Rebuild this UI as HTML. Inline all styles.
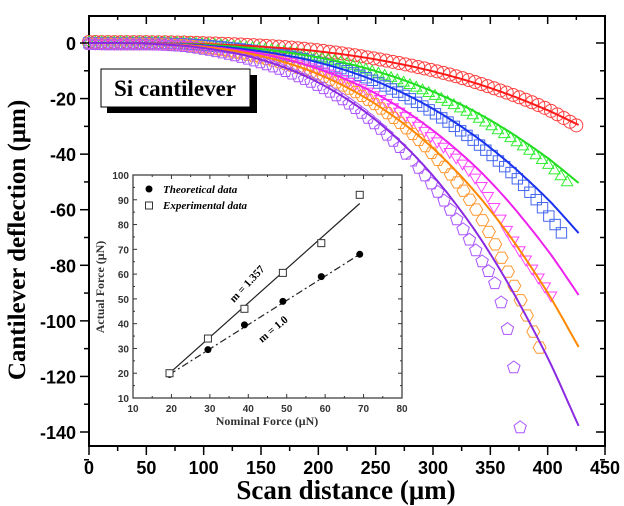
<!DOCTYPE html>
<html><head><meta charset="utf-8"><style>
html,body{margin:0;padding:0;background:#fff;}
svg{display:block;}
text{font-family:"Liberation Sans",sans-serif;}
.serif{font-family:"Liberation Serif",serif;}
</style></head><body>
<svg id="chart" width="624" height="506" viewBox="0 0 624 506" xmlns="http://www.w3.org/2000/svg">
<g id="main"></g>
<g id="inset"></g>
</svg>
<script>
// ---- main chart data ----
const xSamples = [0, 50, 100, 150, 200, 250, 300, 350, 400, 427];
const seriesNames = ['red','green','blue','magenta','orange','purple'];
const seriesColors = ['#ff1a1a','#22dd22','#1a33ee','#ee22ee','#ff8800','#8a2be2'];
const markerColors = ['#ff4040','#33ee33','#4466ee','#ff44ff','#ff9933','#aa55ff'];
const redFit = [0,-0.05,-0.4,-1.3,-3.0,-5.9,-10.2,-16.2,-24.2,-29.5];
const greenFit = [0,-0.1,-0.6,-2.2,-5.2,-10.1,-17.5,-27.8,-41.4,-50.4];
const blueFit = [0,-0.1,-0.9,-3.0,-7.0,-13.7,-23.7,-37.7,-56.2,-68.4];
const magentaFit = [0,-0.1,-1.2,-3.9,-9.3,-18.2,-31.5,-49.9,-74.6,-90.7];
const orangeFit = [0,-0.2,-1.4,-4.7,-11.2,-22.0,-37.9,-60.2,-89.9,-109.4];
const purpleFit = [0,-0.2,-1.8,-6.0,-14.2,-27.7,-47.8,-75.9,-113.3,-137.8];
// experimental (marker) series
const redExpX = [0,100,200,300,350,400,425];
const redExpY = [0,-0.4,-3,-10.2,-16.2,-24.2,-30];
const greenExpX = [0,100,200,250,300,350,400,417];
const greenExpY = [0,-0.7,-5.5,-11,-19,-30,-44,-50.4];
const blueExpX = [0,100,200,250,300,350,385,412];
const blueExpY = [0,-0.9,-7,-14,-25,-40,-54,-68.4];
const magentaExpX = [0,100,200,250,300,340,370,403];
const magentaExpY = [0,-1.2,-9.5,-19,-34,-50,-71,-90.7];
const orangeExpX = [0,100,200,250,297,341,376,393];
const orangeExpY = [0,-1.4,-11.2,-22,-38.5,-62,-92,-109.4];
const purpleExpX = [0,100,200,250,300,341,358,370,376];
const purpleExpY = [0,-1.8,-15,-29,-51,-77,-91,-115,-138];
const markerShapes = ['circle','triangle','square','triangleDown','hexagon','pentagon'];
const xTicks = [0,50,100,150,200,250,300,350,400,450];
const yTicks = [0,-20,-40,-60,-80,-100,-120,-140];

// ---- inset data ----
const nominal = [19.5, 29.5, 39, 49, 59, 69];
const theoretical = [19.5, 29.5, 39.5, 49, 59, 68];
const experimental = [20, 34, 46, 60.5, 72.5, 92];
const fitExpStart = [19.5, 20]; const fitExpEnd = [69, 88.5];
const insetXTicks = [10,20,30,40,50,60,70,80];
const insetYTicks = [10,20,30,40,50,60,70,80,90,100];

const NS='http://www.w3.org/2000/svg';
function mk(tag, attrs, parent){const e=document.createElementNS(NS,tag);for(const k in attrs)e.setAttribute(k,attrs[k]);parent.appendChild(e);return e;}
const main=document.getElementById('main');
const X0=89,X1=605,Y0=43,YM140=432;
const sx=v=>X0+(v/450)*(X1-X0);
const sy=v=>Y0+(v/-140)*(YM140-Y0);
const fits=[redFit,greenFit,blueFit,magentaFit,orangeFit,purpleFit];
const expXs=[redExpX,greenExpX,blueExpX,magentaExpX,orangeExpX,purpleExpX];
const expYs=[redExpY,greenExpY,blueExpY,magentaExpY,orangeExpY,purpleExpY];
function herm(xs,ys,x){
  const n=xs.length;
  const slope=i=>{if(i===0)return (ys[1]-ys[0])/(xs[1]-xs[0]);if(i===n-1)return (ys[n-1]-ys[n-2])/(xs[n-1]-xs[n-2]);
    const a=(ys[i]-ys[i-1])/(xs[i]-xs[i-1]),b=(ys[i+1]-ys[i])/(xs[i+1]-xs[i]);return (a+b)/2;};
  let i=1;while(i<n-1&&x>xs[i])i++;
  const h=xs[i]-xs[i-1],t=Math.min(1,Math.max(0,(x-xs[i-1])/h));
  const t2=t*t,t3=t2*t;
  return (2*t3-3*t2+1)*ys[i-1]+(t3-2*t2+t)*h*slope(i-1)+(-2*t3+3*t2)*ys[i]+(t3-t2)*h*slope(i);
}

const frame=mk('rect',{x:X0,y:16,width:X1-X0,height:446-16,fill:'none',stroke:'#000','stroke-width':2},main);



function shape(type,cx,cy,r,color,parent){
  let el;
  const poly=(n,rot)=>{let p=[];for(let i=0;i<n;i++){const a=rot+i*2*Math.PI/n;p.push((cx+r*Math.cos(a)).toFixed(1)+','+(cy+r*Math.sin(a)).toFixed(1));}return p.join(' ');};
  if(type==='circle') el=mk('circle',{cx,cy,r,fill:'none',stroke:color,'stroke-width':1},parent);
  else if(type==='square') el=mk('rect',{x:cx-r*0.8,y:cy-r*0.8,width:r*1.6,height:r*1.6,fill:'none',stroke:color,'stroke-width':1},parent);
  else if(type==='triangle') el=mk('polygon',{points:poly(3,-Math.PI/2),fill:'none',stroke:color,'stroke-width':1},parent);
  else if(type==='triangleDown') el=mk('polygon',{points:poly(3,Math.PI/2),fill:'none',stroke:color,'stroke-width':1},parent);
  else if(type==='hexagon') el=mk('polygon',{points:poly(6,0),fill:'none',stroke:color,'stroke-width':1},parent);
  else el=mk('polygon',{points:poly(5,-Math.PI/2),fill:'none',stroke:color,'stroke-width':1},parent);
  return el;
}
for(let s=0;s<6;s++){
  const g=mk('g',{},main);
  
  
  const xs=expXs[s],ys=expYs[s],endX=xs[xs.length-1];
  const n=Math.round(endX/5.5);
  for(let k=0;k<=n;k++){
    const x=endX*k/n;
    const v=herm(xs,ys,x);
    const m=shape(markerShapes[s],sx(x),sy(v)+(s-2.5)*0.4,6.5,markerColors[s],g);
    
    
  }
}
for(let s=0;s<6;s++){
  let d='';
  for(let x=0;x<=427;x+=2){d+=(x?'L':'M')+sx(x).toFixed(1)+','+sy(herm(xSamples,fits[s],x)).toFixed(1);}
  d+='L'+sx(427).toFixed(1)+','+sy(fits[s][9]).toFixed(1);
  const p=mk('path',{d,fill:'none',stroke:seriesColors[s],'stroke-width':2},main);
  
  
}

for(let i=0;i<xTicks.length;i++){
  const v=xTicks[i],x=sx(v);
  mk('line',{x1:x,y1:446,x2:x,y2:455,stroke:'#000','stroke-width':1.5},main);
  mk('line',{x1:x,y1:16,x2:x,y2:24,stroke:'#000','stroke-width':1.5},main);
  if(i<xTicks.length-1){const xm=sx(v+25);
    mk('line',{x1:xm,y1:446,x2:xm,y2:451,stroke:'#000','stroke-width':1.5},main);
    mk('line',{x1:xm,y1:16,x2:xm,y2:20,stroke:'#000','stroke-width':1.5},main);}
  const t=mk('text',{x,y:474,'text-anchor':'middle','font-size':18,'font-weight':'bold'},main);
  t.textContent=v;
  
  
}
for(let i=0;i<yTicks.length;i++){
  const v=yTicks[i],y=sy(v);
  mk('line',{x1:80,y1:y,x2:X0,y2:y,stroke:'#000','stroke-width':1.5},main);
  mk('line',{x1:X1-9,y1:y,x2:X1,y2:y,stroke:'#000','stroke-width':1.5},main);
  const ym=sy(v-10);
  mk('line',{x1:84,y1:ym,x2:X0,y2:ym,stroke:'#000','stroke-width':1.5},main);
  mk('line',{x1:X1-5,y1:ym,x2:X1,y2:ym,stroke:'#000','stroke-width':1.5},main);
  const t=mk('text',{x:76,y:y+7,'text-anchor':'end','font-size':18,'font-weight':'bold'},main);
  t.textContent=v;
  
  
}
const xt=mk('text',{x:346,y:499,'text-anchor':'middle','font-size':27,'font-weight':'bold','class':'serif'},main);
xt.textContent='Scan distance (μm)';


const yt=mk('text',{x:0,y:0,'text-anchor':'middle','font-size':25,'font-weight':'bold','class':'serif',transform:'translate(25,240) rotate(-90)'},main);
yt.textContent='Cantilever deflection (μm)';



const lb=mk('g',{},main);


mk('rect',{x:107,y:75,width:150,height:38,fill:'#000'},lb);
mk('rect',{x:101,y:69,width:149,height:38,fill:'#fff',stroke:'#000','stroke-width':1},lb);
const lt=mk('text',{x:175,y:96,'text-anchor':'middle','font-size':23,'font-weight':'bold','class':'serif'},lb);
lt.textContent='Si cantilever';

// ---- inset ----
const ins=document.getElementById('inset');


const IX0=133,IX1=402,IY100=175,IY10=398;
const ix=v=>IX0+(v-10)/70*(IX1-IX0);
const iy=v=>IY10-(v-10)/90*(IY10-IY100);
mk('rect',{x:98,y:160,width:312,height:280,fill:'#fff'},ins);
mk('rect',{x:IX0,y:IY100,width:IX1-IX0,height:IY10-IY100,fill:'none',stroke:'#333','stroke-width':1.2},ins);
for(const v of insetXTicks){
  const x=ix(v);
  mk('line',{x1:x,y1:IY10,x2:x,y2:IY10-4,stroke:'#333'},ins);
  mk('line',{x1:x,y1:IY100,x2:x,y2:IY100+4,stroke:'#333'},ins);
  if(v<80){mk('line',{x1:ix(v+5),y1:IY10,x2:ix(v+5),y2:IY10-2,stroke:'#333'},ins);mk('line',{x1:ix(v+5),y1:IY100,x2:ix(v+5),y2:IY100+2,stroke:'#333'},ins);}
  const t=mk('text',{x,y:IY10+14,'text-anchor':'middle','font-size':10,'font-weight':'bold',fill:'#333'},ins);
  t.textContent=v;
  
  
}
for(const v of insetYTicks){
  const y=iy(v);
  mk('line',{x1:IX0,y1:y,x2:IX0+4,y2:y,stroke:'#333'},ins);
  mk('line',{x1:IX1,y1:y,x2:IX1-4,y2:y,stroke:'#333'},ins);
  if(v<100){mk('line',{x1:IX0,y1:iy(v+5),x2:IX0+2,y2:iy(v+5),stroke:'#333'},ins);mk('line',{x1:IX1,y1:iy(v+5),x2:IX1-2,y2:iy(v+5),stroke:'#333'},ins);}
  const t=mk('text',{x:IX0-4,y:y+4,'text-anchor':'end','font-size':10,'font-weight':'bold',fill:'#333'},ins);
  t.textContent=v;
  
  
}
const l1=mk('line',{x1:ix(fitExpStart[0]),y1:iy(fitExpStart[1]),x2:ix(fitExpEnd[0]),y2:iy(fitExpEnd[1]),stroke:'#222','stroke-width':1.2},ins);


const l2=mk('line',{x1:ix(nominal[0]),y1:iy(theoretical[0]),x2:ix(nominal[5]),y2:iy(theoretical[5]),stroke:'#222','stroke-width':1.2,'stroke-dasharray':'7,3,2,3'},ins);


for(let i=0;i<nominal.length;i++){
  const c=mk('circle',{cx:ix(nominal[i]),cy:iy(theoretical[i]),r:3.5,fill:'#000'},ins);
  
  
  const r=mk('rect',{x:ix(nominal[i])-3.5,y:iy(experimental[i])-3.5,width:7,height:7,fill:'#fff',stroke:'#333'},ins);
  
  
}
const lg=mk('g',{},ins);


mk('circle',{cx:149,cy:189,r:3.5,fill:'#000'},lg);
mk('rect',{x:145.5,y:202,width:7,height:7,fill:'#fff',stroke:'#333'},lg);
const t1=mk('text',{x:163,y:193,'font-size':11,'font-weight':'bold','font-style':'italic','class':'serif'},lg);t1.textContent='Theoretical data';
const t2=mk('text',{x:163,y:209,'font-size':11,'font-weight':'bold','font-style':'italic','class':'serif'},lg);t2.textContent='Experimental data';
const a1=mk('text',{x:0,y:0,'font-size':11,'font-weight':'bold','class':'serif',transform:'translate(234,303) rotate(-47)'},ins);a1.textContent='m = 1.357';


const a2=mk('text',{x:0,y:0,'font-size':11,'font-weight':'bold','class':'serif',transform:'translate(262,343) rotate(-40)'},ins);a2.textContent='m = 1.0';


const ixt=mk('text',{x:267,y:425,'text-anchor':'middle','font-size':12,'font-weight':'bold','class':'serif',fill:'#333'},ins);ixt.textContent='Nominal Force (μN)';


const iyt=mk('text',{x:0,y:0,'text-anchor':'middle','font-size':12,'font-weight':'bold','class':'serif',fill:'#333',transform:'translate(104,287) rotate(-90)'},ins);iyt.textContent='Actual Force (μN)';


</script>
</body></html>
